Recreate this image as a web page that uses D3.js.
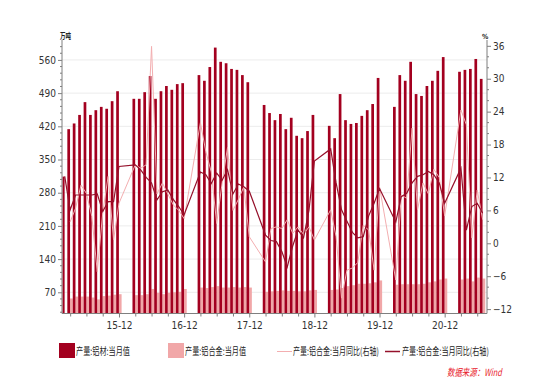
<!DOCTYPE html>
<html><head><meta charset="utf-8">
<script src="https://cdn.jsdelivr.net/npm/d3@7"></script>
<style>body{margin:0;background:#fff}svg{display:block}</style>
</head><body>
<svg id="c" width="543" height="391"></svg>
<script>
// ---------------- data ----------------
const months = [
 "2015-02","2015-03","2015-04","2015-05","2015-06","2015-07","2015-08","2015-09","2015-10","2015-11","2015-12",
 "2016-03","2016-04","2016-05","2016-06","2016-07","2016-08","2016-09","2016-10","2016-11","2016-12",
 "2017-03","2017-04","2017-05","2017-06","2017-07","2017-08","2017-09","2017-10","2017-11","2017-12",
 "2018-03","2018-04","2018-05","2018-06","2018-07","2018-08","2018-09","2018-10","2018-11","2018-12",
 "2019-03","2019-04","2019-05","2019-06","2019-07","2019-08","2019-09","2019-10","2019-11","2019-12",
 "2020-03","2020-04","2020-05","2020-06","2020-07","2020-08","2020-09","2020-10","2020-11","2020-12",
 "2021-03","2021-04","2021-05","2021-06","2021-07"
];
// 产量:铝材:当月值 (万吨)
const aluminumOutput = [
 314,414,426,444,471,444,454,461,457,473,494,
 478,478,492,526,478,494,505,497,509,511,
 528,516,545,586,556,553,541,539,528,513,
 465,448,433,446,414,438,400,395,410,444,
 421,395,488,433,425,427,442,454,467,522,
 461,528,516,556,488,484,505,516,537,566,
 535,539,541,562,520
];
// 产量:铝合金:当月值 (万吨)
const alloyOutput = [
 null,57,61,61,61,59,55,62,63,65,66,
 64,64,66,77,69,66,69,70,71,77,
 80,79,81,83,80,80,81,80,81,80,
 71,72,73,74,73,73,72,72,74,75,
 75,76,79,83,85,88,88,89,91,95,
 86,87,87,87,87,88,91,93,97,99,
 97,99,93,101,99
];
// 产量:铝合金:当月同比 (%), light line
const alloyYoYLight = [
 null,3.9,6.4,10.6,9.1,4.9,-5.2,5.5,12.2,0.6,7.3,
 14.3,13.7,14.3,35.9,9,11,9,7,6,4.5,
 22,16.7,13,3.6,11,17.5,6,8,10.3,1.2,
 -3.4,2.7,3.0,2.7,4.3,1.8,3.0,1.6,3,0.6,
 6.1,1.2,-10,-4.9,-4.5,-3.5,3.3,2.4,-4.9,10.3,
 -6.7,8.8,8.2,21,6.1,11,9,13.5,12,5,
 24.3,21.6,1,9.7,4.3
];
// 产量:铝合金:当月同比 (%), dark line
const alloyYoYDark = [
 12.2,6.1,8.8,8.8,8.8,8.8,9.0,5.8,7.6,7.6,14,
 14.3,13.4,12,11,7.9,9.4,9.7,8,6.7,5.2,
 13,12.5,10.9,12.8,11.5,13.4,9,10.8,10.3,9.5,
 1.5,0.5,0.3,-1.5,-4.3,-0.5,2.4,1,6,15,
 17.2,11,6.1,4,2,1,1.2,5,7.3,10,
 3.9,8.5,9.1,11,12.2,12.5,13.1,12.5,11,7.3,
 13.7,2.4,6.7,7.3,5.5
];
const leftTicks = [70,140,210,280,350,420,490,560];
const rightTicks = [-12,-6,0,6,12,18,24,30,36];
const xTickLabels = ["15-12","16-12","17-12","18-12","19-12","20-12"];
const seriesNames = ["产量:铝材:当月值","产量:铝合金:当月值","产量:铝合金:当月同比(右轴)","产量:铝合金:当月同比(右轴)"];
const leftUnit = "万吨", rightUnit = "%", sourceText = "数据来源：Wind";

// ---------------- chart ----------------
const C = {dark:"#A3001F", pink:"#F1A7A8", lightLine:"#F3AEB0", darkLine:"#95112B", axis:"#7f7f7f", text:"#333", grid:"#ececec"};
const numFont = "'Liberation Sans Narrow','Arial Narrow','DejaVu Sans Condensed',sans-serif";
const cjkFont = "'Noto Sans CJK SC','Noto Sans',sans-serif";
const P = {l:62, r:487, t:40, b:313.5};
const svg = d3.select("#c");
const mi = s => { const [y,m] = s.split("-").map(Number); return (y-2015)*12 + (m-1); };
const data = months.map((m,i)=>({m, k:mi(m), al:aluminumOutput[i], ay:alloyOutput[i], r1:alloyYoYLight[i], r2:alloyYoYDark[i]}));

const x = d3.scaleLinear().domain([mi(months[0])-0.5, mi(months[months.length-1])+0.8]).range([P.l,P.r]);
const yL = d3.scaleLinear().domain([25.3,602]).range([P.b,P.t]);
const yR = d3.scaleLinear().domain([-12.8,37.06]).range([P.b,P.t]);

// gridlines
svg.append("g").selectAll("line").data(leftTicks).join("line")
  .attr("x1",P.l).attr("x2",P.r).attr("y1",d=>yL(d)).attr("y2",d=>yL(d))
  .attr("stroke",C.grid).attr("stroke-width",1);

const bw = 2.7;
// pink bars
svg.append("g").selectAll("rect").data(data.filter(d=>d.ay!=null)).join("rect")
  .attr("x",d=>x(d.k)-0.1).attr("width",bw)
  .attr("y",d=>yL(d.ay)).attr("height",d=>P.b-yL(d.ay)).attr("fill",C.pink);
// dark bars
svg.append("g").selectAll("rect").data(data).join("rect")
  .attr("x",d=>Math.max(P.l+0.5,x(d.k)-2.8)).attr("width",d=>x(d.k)-0.1-Math.max(P.l+0.5,x(d.k)-2.8))
  .attr("y",d=>yL(d.al)).attr("height",d=>P.b-yL(d.al)).attr("fill",C.dark);

// lines
const lineR = key => d3.line().defined(d=>d[key]!=null).x(d=>x(d.k)).y(d=>yR(d[key]));
svg.append("path").datum(data.filter(d=>d.r1!=null)).attr("d",lineR("r1"))
  .attr("fill","none").attr("stroke",C.lightLine).attr("stroke-width",1);
svg.append("path").datum(data).attr("d",lineR("r2"))
  .attr("fill","none").attr("stroke",C.darkLine).attr("stroke-width",1.2);

// axes
const axL = svg.append("g").attr("transform",`translate(${P.l},0)`)
  .call(d3.axisLeft(yL).tickValues(leftTicks).tickSize(4).tickPadding(2).tickFormat(d3.format("d")));
const axR = svg.append("g").attr("transform",`translate(${P.r},0)`)
  .call(d3.axisRight(yR).tickValues(rightTicks).tickSize(4).tickPadding(2).tickFormat(d3.format("d")));
// minor ticks
svg.append("g").selectAll("line").data(d3.range(28,600,14).filter(v=>v%70!==0)).join("line")
  .attr("x1",P.l-2).attr("x2",P.l).attr("y1",d=>yL(d)).attr("y2",d=>yL(d)).attr("stroke",C.axis);
svg.append("g").selectAll("line").data(d3.range(-12,37,2).filter(v=>v%6!==0)).join("line")
  .attr("x1",P.r).attr("x2",P.r+2).attr("y1",d=>yR(d)).attr("y2",d=>yR(d)).attr("stroke",C.axis);

// x axis: quarterly ticks, Dec labelled
const qTicks = d3.range(Math.ceil(x.domain()[0]), Math.floor(x.domain()[1])+1).filter(k=>(k%12)%3===2);
const axB = svg.append("g").attr("transform",`translate(0,${P.b})`)
  .call(d3.axisBottom(x).tickValues(qTicks).tickSize(3).tickPadding(5)
    .tickFormat(k => (k%12===11) ? xTickLabels[Math.floor(k/12)] : ""));
axB.selectAll(".tick line").attr("y2",k=>k%12===11?4:3);

[axL,axR,axB].forEach(a=>{
  a.select(".domain").attr("stroke",C.axis).attr("stroke-width",1);
  a.selectAll(".tick line").attr("stroke",C.axis);
  a.selectAll("text").attr("fill",C.text).style("font-family",numFont).style("font-size","10px");
});
axL.select(".domain").attr("d",`M-0,${P.t}V${P.b}`);
axR.select(".domain").attr("d",`M0,${P.t}V${P.b}`);
axB.select(".domain").attr("d",`M${P.l},0H${P.r}`);

// squeezed text helper: draws text at (tx,ty) scaled horizontally to width w
function squeezed(parent, str, tx, ty, w, styles, anchorEnd){
  const t = parent.append("text").attr("x",0).attr("y",0).text(str);
  Object.entries(styles).forEach(([k,v])=>t.style(k,v));
  const w0 = t.node().getComputedTextLength() || w;
  const s = w / w0;
  const left = anchorEnd ? tx - w : tx;
  t.attr("transform",`translate(${left},${ty}) scale(${s},1)`);
  return t;
}

// unit labels
squeezed(svg, leftUnit, P.l-2, 39, 11, {"font-family":cjkFont,"font-size":"8px","font-weight":"bold","fill":"#222"});
svg.append("text").attr("x",P.r-5).attr("y",39).text(rightUnit)
  .style("font-family",numFont).style("font-size","7px").style("font-weight","bold").attr("fill","#222");

// legend
const lg = svg.append("g");
const legendItems = [
 {type:"rect", color:C.dark, x:59, tx:76, w:54},
 {type:"rect", color:C.pink, x:168, tx:185, w:61},
 {type:"line", color:C.lightLine, x:277, tx:293, w:86, sw:1},
 {type:"line", color:C.darkLine, x:385, tx:402, w:87, sw:1.5}
];
legendItems.forEach((it,i)=>{
  if(it.type==="rect") lg.append("rect").attr("x",it.x).attr("y",343).attr("width",16).attr("height",15).attr("fill",it.color);
  else lg.append("line").attr("x1",it.x).attr("x2",it.x+15).attr("y1",351.5).attr("y2",351.5).attr("stroke",it.color).attr("stroke-width",it.sw);
  squeezed(lg, seriesNames[i], it.tx, 355, it.w, {"font-family":cjkFont,"font-size":"10px","fill":"#222"});
});
squeezed(svg, sourceText, 502, 376, 55, {"font-family":cjkFont,"font-size":"10px","font-style":"italic","fill":"#E8202A"}, true);
</script>
</body></html>
